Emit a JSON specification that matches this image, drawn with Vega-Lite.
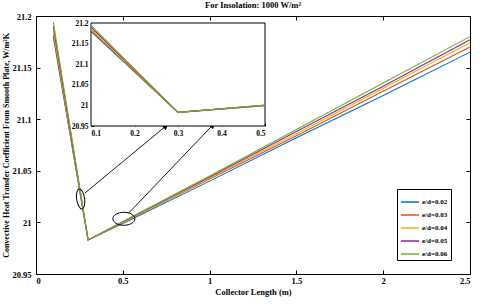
{
  "$schema": "https://vega.github.io/schema/vega-lite/v6.json",
  "width": 434,
  "height": 258,
  "autosize": {"type": "none"},
  "padding": {"left": 36, "top": 16, "right": 10, "bottom": 31},
  "background": "white",
  "title": {"text": "For Insolation: 1000 W/m²", "font": "Liberation Serif", "fontWeight": "bold", "fontSize": 8.5, "offset": 3},
  "config": {
    "view": {"stroke": "black", "strokeWidth": 1},
    "axis": {"labelFont": "Liberation Serif", "labelFontWeight": "bold", "labelFontSize": 8.5, "labelColor": "black", "titleFont": "Liberation Serif", "titleFontWeight": "bold", "titleFontSize": 8.5, "titleColor": "black", "grid": false, "domainColor": "black", "tickColor": "black", "format": "~g"},
    "legend": {"labelFont": "Liberation Serif", "labelFontWeight": "bold", "labelFontSize": 7, "labelColor": "black"}
  },
  "datasets": {
    "curves": [
      {"L": 0.1, "h": 21.180, "s": "e/d=0.02"}, {"L": 0.3, "h": 20.983, "s": "e/d=0.02"}, {"L": 0.5, "h": 20.999, "s": "e/d=0.02"}, {"L": 1.0, "h": 21.040, "s": "e/d=0.02"}, {"L": 1.5, "h": 21.082, "s": "e/d=0.02"}, {"L": 2.0, "h": 21.123, "s": "e/d=0.02"}, {"L": 2.5, "h": 21.165, "s": "e/d=0.02"},
      {"L": 0.1, "h": 21.182, "s": "e/d=0.03"}, {"L": 0.3, "h": 20.983, "s": "e/d=0.03"}, {"L": 0.5, "h": 21.000, "s": "e/d=0.03"}, {"L": 1.0, "h": 21.042, "s": "e/d=0.03"}, {"L": 1.5, "h": 21.084, "s": "e/d=0.03"}, {"L": 2.0, "h": 21.127, "s": "e/d=0.03"}, {"L": 2.5, "h": 21.170, "s": "e/d=0.03"},
      {"L": 0.1, "h": 21.186, "s": "e/d=0.04"}, {"L": 0.3, "h": 20.983, "s": "e/d=0.04"}, {"L": 0.5, "h": 21.000, "s": "e/d=0.04"}, {"L": 1.0, "h": 21.043, "s": "e/d=0.04"}, {"L": 1.5, "h": 21.086, "s": "e/d=0.04"}, {"L": 2.0, "h": 21.130, "s": "e/d=0.04"}, {"L": 2.5, "h": 21.174, "s": "e/d=0.04"},
      {"L": 0.1, "h": 21.190, "s": "e/d=0.05"}, {"L": 0.3, "h": 20.983, "s": "e/d=0.05"}, {"L": 0.5, "h": 21.0005, "s": "e/d=0.05"}, {"L": 1.0, "h": 21.044, "s": "e/d=0.05"}, {"L": 1.5, "h": 21.088, "s": "e/d=0.05"}, {"L": 2.0, "h": 21.132, "s": "e/d=0.05"}, {"L": 2.5, "h": 21.177, "s": "e/d=0.05"},
      {"L": 0.1, "h": 21.194, "s": "e/d=0.06"}, {"L": 0.3, "h": 20.983, "s": "e/d=0.06"}, {"L": 0.5, "h": 21.001, "s": "e/d=0.06"}, {"L": 1.0, "h": 21.045, "s": "e/d=0.06"}, {"L": 1.5, "h": 21.090, "s": "e/d=0.06"}, {"L": 2.0, "h": 21.135, "s": "e/d=0.06"}, {"L": 2.5, "h": 21.180, "s": "e/d=0.06"}
    ],
    "arrows": [
      {"id": "a", "x0": 0.282, "y0": 21.0285, "x1": 0.748, "y1": 21.0933},
      {"id": "b", "x0": 0.535, "y0": 21.0092, "x1": 1.018, "y1": 21.0943}
    ],
    "ellipses": [
      {"id": "a", "x": 0.257, "y": 21.0227},
      {"id": "b", "x": 0.506, "y": 21.0035}
    ],
    "insetbox": [{"x0": 0.1, "x1": 0.5, "y0": 20.95, "y1": 21.2}]
  },
  "layer": [
    {
      "layer": [
        {
          "data": {"name": "curves"},
          "mark": {"type": "line", "strokeWidth": 1.1},
          "encoding": {
            "x": {"field": "L", "type": "quantitative", "scale": {"domain": [0, 2.5], "nice": false, "zero": false}, "axis": {"orient": "bottom", "title": "Collector Length (m)", "values": [0, 0.5, 1, 1.5, 2, 2.5], "tickSize": -4, "labelPadding": 6, "titlePadding": 3, "domain": false}},
            "y": {"field": "h", "type": "quantitative", "scale": {"domain": [20.95, 21.2], "nice": false, "zero": false}, "axis": {"orient": "left", "title": "Convective Heat Transfer Coefficient From Smooth Plate, W/m²K", "titleFontSize": 8, "values": [20.95, 21, 21.05, 21.1, 21.15, 21.2], "tickSize": -4, "labelPadding": 9, "titlePadding": 1, "domain": false}},
            "color": {"field": "s", "type": "nominal", "scale": {"domain": ["e/d=0.02", "e/d=0.03", "e/d=0.04", "e/d=0.05", "e/d=0.06"], "range": ["#0072BD", "#D95319", "#EDB120", "#7E2F8E", "#77AC30"]}, "legend": {"title": null, "orient": "none", "legendX": 361, "legendY": 173, "strokeColor": "black", "fillColor": "white", "padding": 3, "symbolType": "stroke", "symbolSize": 330, "symbolStrokeWidth": 1.5, "rowPadding": -8, "labelOffset": 2}}
          }
        },
        {
          "data": {"name": "curves"},
          "mark": {"type": "point", "opacity": 0},
          "encoding": {
            "x": {"field": "L", "type": "quantitative", "scale": {"domain": [0, 2.5], "nice": false, "zero": false}, "axis": {"orient": "top", "title": null, "labels": false, "values": [0, 0.5, 1, 1.5, 2, 2.5], "tickSize": -4, "domain": false}},
            "y": {"field": "h", "type": "quantitative", "scale": {"domain": [20.95, 21.2], "nice": false, "zero": false}, "axis": {"orient": "right", "title": null, "labels": false, "values": [20.95, 21, 21.05, 21.1, 21.15, 21.2], "tickSize": -4, "domain": false}}
          }
        },
        {
          "data": {"name": "arrows"},
          "mark": {"type": "rule", "color": "black", "strokeWidth": 0.9},
          "encoding": {
            "x": {"field": "x0", "type": "quantitative", "scale": {"domain": [0, 2.5], "nice": false, "zero": false}, "axis": null},
            "y": {"field": "y0", "type": "quantitative", "scale": {"domain": [20.95, 21.2], "nice": false, "zero": false}, "axis": null},
            "x2": {"field": "x1"},
            "y2": {"field": "y1"}
          }
        },
        {
          "data": {"name": "arrows"},
          "transform": [{"filter": "datum.id == 'a'"}],
          "mark": {"type": "point", "shape": "triangle-up", "filled": true, "color": "black", "size": 40, "angle": 50, "opacity": 1},
          "encoding": {
            "x": {"field": "x1", "type": "quantitative", "scale": {"domain": [0, 2.5], "nice": false, "zero": false}, "axis": null},
            "y": {"field": "y1", "type": "quantitative", "scale": {"domain": [20.95, 21.2], "nice": false, "zero": false}, "axis": null}
          }
        },
        {
          "data": {"name": "arrows"},
          "transform": [{"filter": "datum.id == 'b'"}],
          "mark": {"type": "point", "shape": "triangle-up", "filled": true, "color": "black", "size": 40, "angle": 44, "opacity": 1},
          "encoding": {
            "x": {"field": "x1", "type": "quantitative", "scale": {"domain": [0, 2.5], "nice": false, "zero": false}, "axis": null},
            "y": {"field": "y1", "type": "quantitative", "scale": {"domain": [20.95, 21.2], "nice": false, "zero": false}, "axis": null}
          }
        },
        {
          "data": {"name": "ellipses"},
          "transform": [{"filter": "datum.id == 'a'"}],
          "mark": {"type": "point", "shape": "M0,-1A0.4,1 0 1,1 0,1A0.4,1 0 1,1 0,-1Z", "size": 400, "filled": false, "color": "black", "strokeWidth": 1, "opacity": 1, "angle": -8},
          "encoding": {
            "x": {"field": "x", "type": "quantitative", "scale": {"domain": [0, 2.5], "nice": false, "zero": false}, "axis": null},
            "y": {"field": "y", "type": "quantitative", "scale": {"domain": [20.95, 21.2], "nice": false, "zero": false}, "axis": null}
          }
        },
        {
          "data": {"name": "ellipses"},
          "transform": [{"filter": "datum.id == 'b'"}],
          "mark": {"type": "point", "shape": "M-1,0A1,0.59 0 1,1 1,0A1,0.59 0 1,1 -1,0Z", "size": 484, "filled": false, "color": "black", "strokeWidth": 1, "opacity": 1},
          "encoding": {
            "x": {"field": "x", "type": "quantitative", "scale": {"domain": [0, 2.5], "nice": false, "zero": false}, "axis": null},
            "y": {"field": "y", "type": "quantitative", "scale": {"domain": [20.95, 21.2], "nice": false, "zero": false}, "axis": null}
          }
        }
      ],
      "resolve": {"axis": {"x": "independent", "y": "independent"}}
    },
    {
      "layer": [
        {
          "data": {"name": "insetbox"},
          "mark": {"type": "rect", "fill": "white", "stroke": "black", "strokeWidth": 1},
          "encoding": {
            "x": {"field": "x0", "type": "quantitative", "scale": {"domain": [0.1, 0.5], "nice": false, "zero": false, "range": [55, 229]}, "axis": {"orient": "bottom", "offset": -148, "title": null, "values": [0.1, 0.2, 0.3, 0.4, 0.5], "tickSize": -3, "labelPadding": 6, "labelFontSize": 7.5, "domain": false}},
            "x2": {"field": "x1"},
            "y": {"field": "y0", "type": "quantitative", "scale": {"domain": [20.95, 21.2], "nice": false, "zero": false, "range": [110, 7]}, "axis": {"orient": "left", "offset": -55, "title": null, "values": [20.95, 21, 21.05, 21.1, 21.15, 21.2], "tickSize": -3, "labelPadding": 6, "labelFontSize": 7.5, "domain": false}},
            "y2": {"field": "y1"}
          }
        },
        {
          "data": {"name": "curves"},
          "transform": [{"filter": "datum.L <= 0.5"}],
          "mark": {"type": "line", "strokeWidth": 1.1},
          "encoding": {
            "x": {"field": "L", "type": "quantitative"},
            "y": {"field": "h", "type": "quantitative"},
            "color": {"field": "s", "type": "nominal"}
          }
        }
      ]
    }
  ],
  "resolve": {"scale": {"x": "independent", "y": "independent"}, "axis": {"x": "independent", "y": "independent"}}
}
